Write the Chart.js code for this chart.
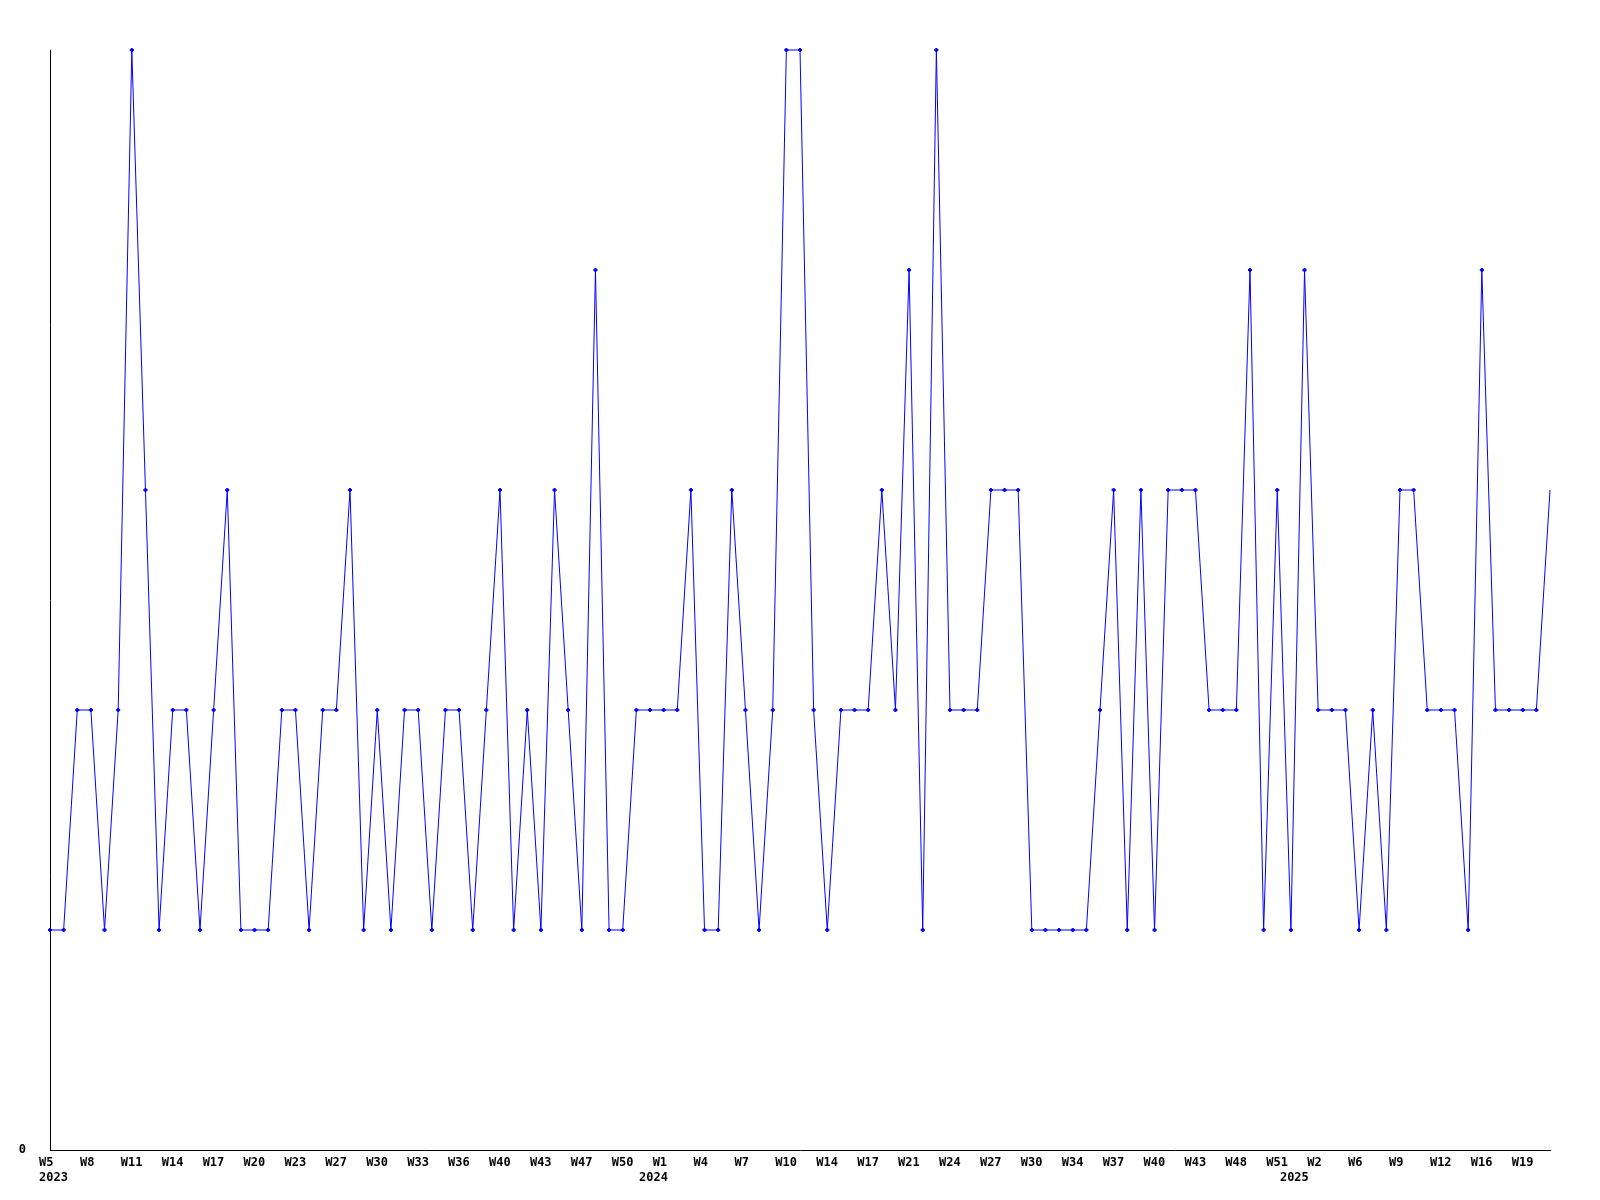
<!DOCTYPE html>
<html>
<head>
<meta charset="utf-8">
<script src="https://cdn.jsdelivr.net/npm/chart.js@4.4.1/dist/chart.umd.min.js"></script>
<style>
  html, body { margin: 0; padding: 0; background: #ffffff; }
  #wrap { width: 1600px; height: 1200px; }
</style>
</head>
<body>
<div id="wrap"><canvas id="c" width="1600" height="1200"></canvas></div>
<script>
// Week categories (one per data point)
const weeks = [
  'W5','W6','W7','W8','W9','W10','W11','W12','W13','W14','W15','W16','W17','W18','W19','W20','W21','W22','W23','W24','W25',
  'W27','W28','W29','W30','W31','W32','W33','W34','W35','W36','W37','W38','W40','W41','W42','W43','W44','W45','W47','W48',
  'W49','W50','W51','W52',
  'W1','W2','W3','W4','W5','W6','W7','W8','W9','W10','W11','W12','W14','W15','W16','W17','W18','W19','W21','W22','W23',
  'W24','W25','W26','W27','W28','W29','W30','W31','W32','W34','W35','W36','W37','W38','W39','W40','W41','W42','W43','W44',
  'W46','W48','W49','W50','W51','W52',
  'W1','W2','W3','W4','W6','W7','W8','W9','W10','W11','W12','W13','W14','W16','W17','W18','W19','W20','W21'
];
// Year captions and the category index where each appears
const yearNames = ['2023', '2024', '2025'];
const yearStarts = [0, 44, 91];
// Weekly values
const counts = [
  1,1,2,2,1,2,5,3,1,2,2,1,2,3,1,1,1,2,2,1,2,
  2,3,1,2,1,2,2,1,2,2,1,2,3,1,2,1,3,2,1,4,
  1,1,2,2,
  2,2,3,1,1,3,2,1,2,5,5,2,1,2,2,2,3,2,4,1,5,
  2,2,2,3,3,3,1,1,1,1,1,2,3,1,3,1,3,3,3,2,
  2,2,4,1,3,1,
  4,2,2,2,1,2,1,3,3,2,2,2,1,4,2,2,2,2,3
];
const yTicks = [0];
const labelEvery = 3;

const ctx = document.getElementById('c').getContext('2d');
new Chart(ctx, {
  type: 'line',
  data: {
    labels: weeks,
    datasets: [{
      data: counts,
      borderColor: '#0000ff',
      borderWidth: 1,
      tension: 0,
      fill: false,
      clip: false,
      pointStyle: 'rectRot',
      pointRadius: (c) => (c.dataIndex === counts.length - 1 ? 0 : 2),
      pointBackgroundColor: '#0000ff',
      pointBorderColor: '#0000ff',
      pointBorderWidth: 1
    }]
  },
  options: {
    responsive: false,
    animation: false,
    events: [],
    layout: { padding: { top: 50, right: 50, left: 0, bottom: 0 } },
    plugins: { legend: { display: false }, tooltip: { enabled: false }, title: { display: false } },
    scales: {
      x: {
        type: 'category',
        offset: false,
        grid: { display: false, drawTicks: false },
        border: { display: true, color: '#000000', width: 1 },
        afterFit: (s) => { s.height = 50; },
        ticks: {
          autoSkip: false,
          maxRotation: 0,
          minRotation: 0,
          align: 'start',
          labelOffset: -11,
          padding: 6,
          color: '#000000',
          font: { family: 'DejaVu Sans Mono', size: 12, weight: 'bold', lineHeight: 1.2 },
          callback: function (value, index) {
            const lines = [];
            const yi = yearStarts.indexOf(index);
            if (index % labelEvery === 0) lines.push(this.getLabelForValue(value));
            else if (yi >= 0) lines.push('');
            if (yi >= 0) lines.push(yearNames[yi]);
            if (lines.length === 0) return null;
            return lines.length === 1 ? lines[0] : lines;
          }
        }
      },
      y: {
        min: 0,
        max: 5,
        grid: { display: false, drawTicks: false },
        border: { display: true, color: '#000000', width: 1 },
        afterFit: (s) => { s.width = 50; },
        afterBuildTicks: (s) => { s.ticks = yTicks.map(v => ({ value: v })); },
        ticks: {
          padding: 24,
          color: '#000000',
          font: { family: 'DejaVu Sans Mono', size: 12, weight: 'bold' }
        }
      }
    }
  }
});
</script>
</body>
</html>
